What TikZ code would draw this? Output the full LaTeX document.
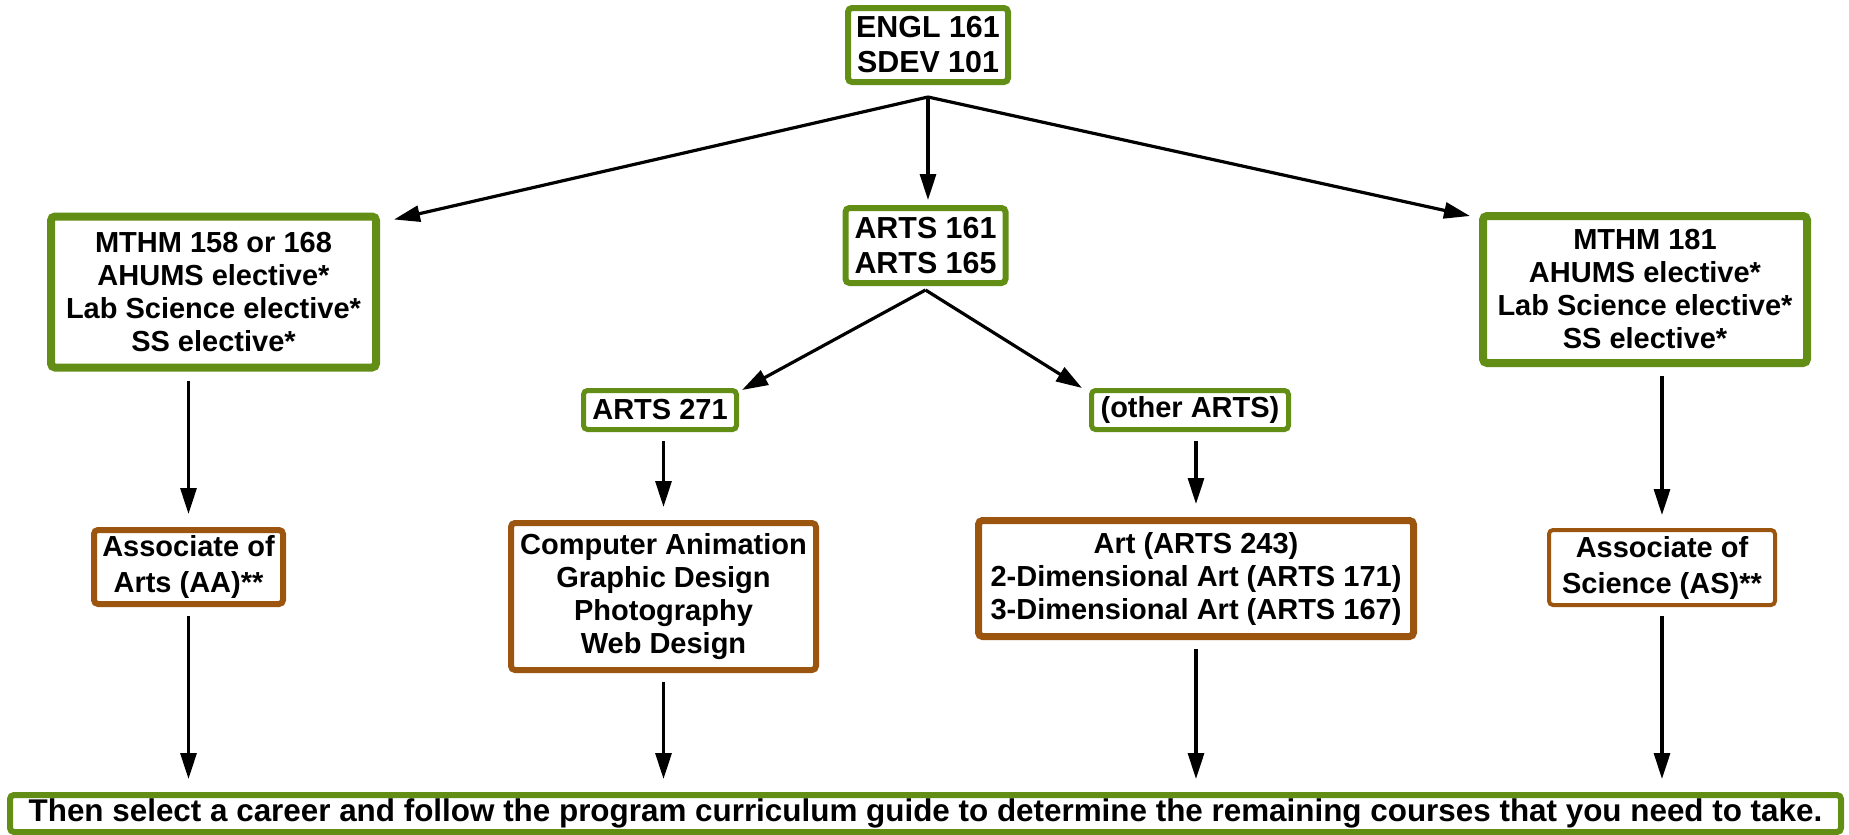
\documentclass[tikz,border=0pt]{standalone}
\usepackage{fontspec}
\setmainfont{Liberation Sans}
\usetikzlibrary{arrows.meta}
\definecolor{coursegreen}{RGB}{98,142,22}
\definecolor{degreebrown}{RGB}{155,85,15}

\begin{document}
\begin{tikzpicture}[x=0.5pt, y=-0.5pt,
	course/.style={draw=coursegreen, fill=white, rounded corners=2pt, align=center, inner sep=0pt, font=\bfseries\fontsize{14.5}{16.5}\selectfont},
	degree/.style={course, draw=degreebrown},
	conn/.style={line width=1.6pt, -{Triangle[length=13pt, width=8pt]}},
	down/.style={conn, shorten <=4.5pt, shorten >=6.5pt}]
	\useasboundingbox (0,0) rectangle (1849,835);

	\node (engl) at (928,45) [course, line width=3pt, minimum width=80pt, minimum height=37pt, font=\bfseries\fontsize{15.2}{17.5}\selectfont] {ENGL 161\\SDEV 101};
	\coordinate (engl-fork) at ([yshift=-6pt]engl.south);
	\node (arts161) at (925.5,245.5) [course, line width=3pt, minimum width=80pt, minimum height=37.5pt, font=\bfseries\fontsize{15.2}{17.5}\selectfont] {ARTS 161\\ARTS 165};
	\node (mthm158) at (213.5,292) [course, line width=4pt, minimum width=162.5pt, minimum height=75.5pt] {MTHM 158 or 168\\AHUMS elective*\\Lab Science elective*\\SS elective*};
	\node (mthm181) at (1645,289.5) [course, line width=4pt, minimum width=162pt, minimum height=73.5pt] {MTHM 181\\AHUMS elective*\\Lab Science elective*\\SS elective*};
	\draw[conn] (engl-fork) to ([shift={(14,7)}]mthm158.north east);
	\draw[conn, shorten >=2.5pt] (engl-fork) to (engl-fork |- arts161.north);
	\draw[conn] (engl-fork) to ([shift={(-9,4)}]mthm181.north west);

	\node (arts271) at (660,410) [course, line width=2.5pt, minimum width=76.5pt, minimum height=19.5pt] {ARTS 271};
	\node (other) at (1190,410) [course, line width=2.5pt, minimum width=98.5pt, minimum height=19.5pt] {(other ARTS)};
	\coordinate (arts-fork) at ([yshift=-2pt]arts161.south);
	\draw[conn] (arts-fork) to ([shift={(3,2)}]arts271.north east);
	\draw[conn] (arts-fork) to ([shift={(-7,0)}]other.north west);

	\node (aa) at (188.5,567) [degree, line width=3pt, minimum width=94.5pt, minimum height=37pt, font=\bfseries\fontsize{14.5}{18}\selectfont] {Associate of\\Arts (AA)**};
	\node (compan) at (663.5,596.5) [degree, line width=3pt, minimum width=152.5pt, minimum height=73.5pt] {Computer Animation\\Graphic Design\\Photography\\Web Design};
	\node (art) at (1196,578.5) [degree, line width=3.5pt, minimum width=217.5pt, minimum height=58pt] {Art (ARTS 243)\\2-Dimensional Art (ARTS 171)\\3-Dimensional Art (ARTS 167)};
	\node (as) at (1662,567.5) [degree, line width=2pt, minimum width=113pt, minimum height=37.5pt, font=\bfseries\fontsize{14.5}{18}\selectfont] {Associate of\\Science (AS)**};
	\draw[down] (mthm158.south -| aa.north) to (aa.north);
	\draw[down] (arts271.south -| compan.north) to (compan.north);
	\draw[down] (other.south -| art.north) to (art.north);
	\draw[down] (mthm181.south -| as.north) to (as.north);

	\node (career) at (925.5,813.5) [course, line width=3pt, minimum width=915.5pt, minimum height=18.5pt, font=\bfseries\fontsize{15.7}{18}\selectfont] {Then select a career and follow the program curriculum guide to determine the remaining courses that you need to take.};
	\draw[down] (aa.south) to (aa.south |- career.north);
	\draw[down] (compan.south) to (compan.south |- career.north);
	\draw[down] (art.south) to (art.south |- career.north);
	\draw[down] (as.south) to (as.south |- career.north);
\end{tikzpicture}
\end{document}
